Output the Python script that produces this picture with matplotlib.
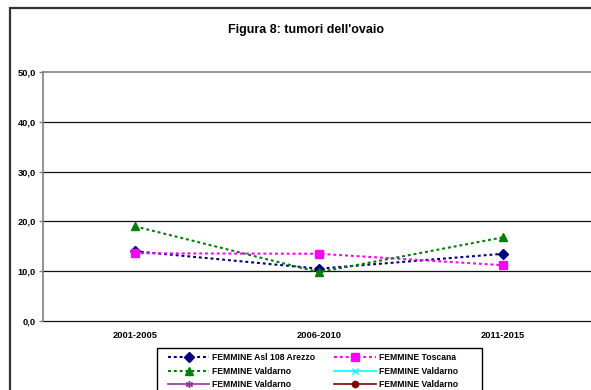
import matplotlib
matplotlib.use("Agg")
import matplotlib.pyplot as plt
from matplotlib.patches import Rectangle
import numpy as np

plt.rcParams['font.family'] = ['Liberation Sans', 'DejaVu Sans']

periods = ["2001-2005", "2006-2010", "2011-2015"]
arezzo = [14.0, 10.5, 13.5]
toscana = [13.6, 13.5, 11.2]
valdarno = [19.0, 9.8, 16.8]
# series present only in the legend (no values reported)
valdarno_b = [np.nan, np.nan, np.nan]
valdarno_c = [np.nan, np.nan, np.nan]
valdarno_d = [np.nan, np.nan, np.nan]
yticks = [0, 10, 20, 30, 40, 50]
ytick_labels = ["0,0", "10,0", "20,0", "30,0", "40,0", "50,0"]

W, H = 591, 390
fig = plt.figure(figsize=(W / 100, H / 100), dpi=100)

# outer chart border (runs off the right and bottom edges)
top = 1 - 8 / H
fig.patches.append(Rectangle((10 / W, -0.2), 1.2, top + 0.2,
                             transform=fig.transFigure, fill=False,
                             edgecolor="#333333", lw=1.6, clip_on=False))

ax = fig.add_axes([43 / W, (H - 321) / H, 552 / W, (321 - 72) / H])
x = np.arange(len(periods))

dot = (0, (1.4, 1.4))
ax.plot(x, arezzo, color="#000080", ls=dot, lw=1.5, marker="D", ms=4.8,
        label="FEMMINE Asl 108 Arezzo", zorder=3)
ax.plot(x, toscana, color="#FF00FF", ls=dot, lw=1.5, marker="s", ms=5.5,
        label="FEMMINE Toscana", zorder=3)
ax.plot(x, valdarno, color="#008000", ls=dot, lw=1.5, marker="^", ms=6,
        label="FEMMINE Valdarno", zorder=3)
ax.plot(x, valdarno_b, color="#00FFFF", ls="-", lw=1.2, marker="x", ms=4,
        label="FEMMINE Valdarno")
ax.plot(x, valdarno_c, color="#993399", ls="-", lw=1.2, marker=(6, 2, 0), ms=5,
        label="FEMMINE Valdarno")
ax.plot(x, valdarno_d, color="#800000", ls="-", lw=1.2, marker="o", ms=4.5,
        label="FEMMINE Valdarno")

ax.set_xlim(-0.5, len(periods) - 0.5)
ax.set_ylim(0, 50)
ax.set_yticks(yticks)
ax.set_yticklabels(ytick_labels)
ax.set_xticks(x)
ax.set_xticklabels(periods)
ax.tick_params(axis="x", length=0, pad=7, labelsize=6.7)
ax.tick_params(axis="y", length=3, width=1, color="#808080", pad=2, labelsize=6.7)
for lab in ax.get_xticklabels() + ax.get_yticklabels():
    lab.set_fontweight("bold")

# horizontal gridlines, including the baseline at zero
for yv in yticks[:-1]:
    ax.axhline(yv, color="#111111", lw=0.9, zorder=1, clip_on=False)
for s in ["right", "bottom"]:
    ax.spines[s].set_visible(False)
for s in ["left", "top"]:
    ax.spines[s].set_color("#808080")
    ax.spines[s].set_linewidth(1.2)
    ax.spines[s].set_zorder(2)

fig.text(306 / W, 1 - 30 / H, "Figura 8: tumori dell'ovaio", ha="center",
         va="center", fontsize=9, fontweight="bold")

# legend box
fig.patches.append(Rectangle((157 / W, -0.2), (482 - 157) / W, (1 - 348 / H) + 0.2,
                             transform=fig.transFigure, fill=False,
                             edgecolor="black", lw=1.0, clip_on=False))

handles, labels = ax.get_legend_handles_labels()
order = [0, 2, 4, 1, 3, 5]
leg = fig.legend([handles[i] for i in order], [labels[i] for i in order],
                 loc="upper left", bbox_to_anchor=(168 / W, 1 - 353 / H),
                 ncol=2, frameon=False,
                 prop={"size": 6.2, "weight": "bold"}, handlelength=4.8,
                 labelspacing=0.55, columnspacing=2.2, borderpad=0,
                 handletextpad=0.35, borderaxespad=0)

fig.savefig("out.png", dpi=100)
